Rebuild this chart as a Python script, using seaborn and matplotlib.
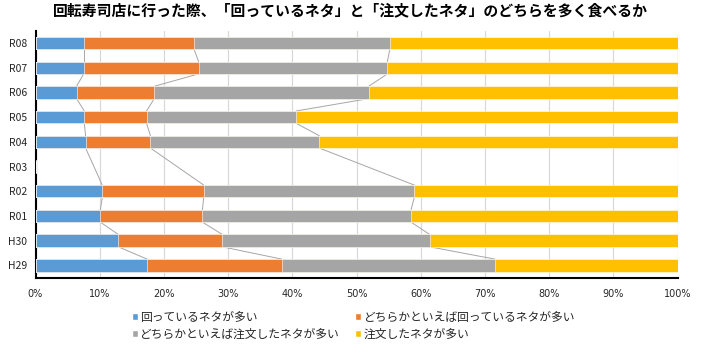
import numpy as np
import pandas as pd
import matplotlib
matplotlib.use("Agg")
import matplotlib.pyplot as plt
from matplotlib.patches import Patch
import seaborn as sns

categories = ["R08", "R07", "R06", "R05", "R04", "R03", "R02", "R01", "H30", "H29"]
series_names = ["回っているネタが多い", "どちらかといえば回っているネタが多い",
                "どちらかといえば注文したネタが多い", "注文したネタが多い"]
kaiten = [7.5, 7.5, 6.4, 7.6, 7.8, 0, 10.4, 10.1, 12.9, 17.4]
dochira_kaiten = [17.2, 17.9, 12.1, 9.7, 10.1, 0, 15.8, 15.9, 16.2, 21.0]
dochira_chumon = [30.5, 29.4, 33.4, 23.3, 26.3, 0, 32.8, 32.5, 32.3, 33.2]
chumon = [44.8, 45.2, 48.1, 59.4, 55.8, 0, 41.0, 41.5, 38.6, 28.4]
colors = ["#5B9BD5", "#ED7D31", "#A5A5A5", "#FFC000"]
xticklabels = ["0%", "10%", "20%", "30%", "40%", "50%", "60%", "70%", "80%", "90%", "100%"]
title = "回転寿司店に行った際、「回っているネタ」と「注文したネタ」のどちらを多く食べるか"

sns.set_theme(style="white")
plt.rcParams["font.family"] = ["Noto Sans CJK JP", "DejaVu Sans"]

vals = np.array([kaiten, dochira_kaiten, dochira_chumon, chumon])
cum = np.cumsum(vals, axis=0)

fig = plt.figure(figsize=(7.06, 3.54), dpi=100)
ax = fig.add_axes([35.5 / 706, 1 - 277.7 / 354, 642 / 706, 247 / 354])

bw = 0.5
for k in range(3, -1, -1):
    df = pd.DataFrame({"cat": categories, "val": cum[k]})
    sns.barplot(data=df, x="val", y="cat", color=colors[k], orient="h",
                width=bw, ax=ax, edgecolor="white", linewidth=0.4,
                saturation=1, zorder=3)

# series lines
valid = [i for i in range(len(categories)) if vals[:, i].sum() > 0]
for k in range(3):
    for a, b in zip(valid[:-1], valid[1:]):
        ax.plot([cum[k, a], cum[k, b]], [a + bw / 2, b - bw / 2],
                color="#A6A6A6", lw=0.7, zorder=2)

ax.set_xlim(0, 100)
ax.set_ylim(len(categories) - 0.5, -0.5)
ax.set_xticks(np.arange(0, 101, 10))
ax.set_xticklabels(xticklabels, fontsize=7,
                   family=["Liberation Sans Narrow", "DejaVu Sans"])
ax.tick_params(axis="y", labelsize=7.5, length=0, pad=6)
ax.tick_params(axis="x", length=0, pad=8)
ax.set_xlabel("")
ax.set_ylabel("")
ax.grid(axis="x", color="#D9D9D9", lw=0.9, zorder=0)
ax.set_axisbelow(True)
for s in ["top", "right"]:
    ax.spines[s].set_visible(False)
ax.spines["left"].set_color("black")
ax.spines["left"].set_linewidth(1.5)
ax.spines["bottom"].set_color("black")
ax.spines["bottom"].set_linewidth(1.5)

fig.text(0.5 * (53 + 648) / 706, 1 - 10 / 354, title, ha="center", va="center",
         fontsize=10.7, fontweight="bold", color="black")

handles = [Patch(facecolor=colors[0]), Patch(facecolor=colors[2]),
           Patch(facecolor=colors[1]), Patch(facecolor=colors[3])]
labels = [series_names[0], series_names[2], series_names[1], series_names[3]]
fig.legend(handles, labels, loc="upper left", bbox_to_anchor=(126 / 706, 1 - 305 / 354),
           ncol=2, frameon=False, fontsize=8.5, handlelength=0.5, handleheight=0.5,
           handletextpad=0.2, columnspacing=1.3, labelspacing=0.3, borderpad=0)

fig.savefig("out.png", dpi=100)
